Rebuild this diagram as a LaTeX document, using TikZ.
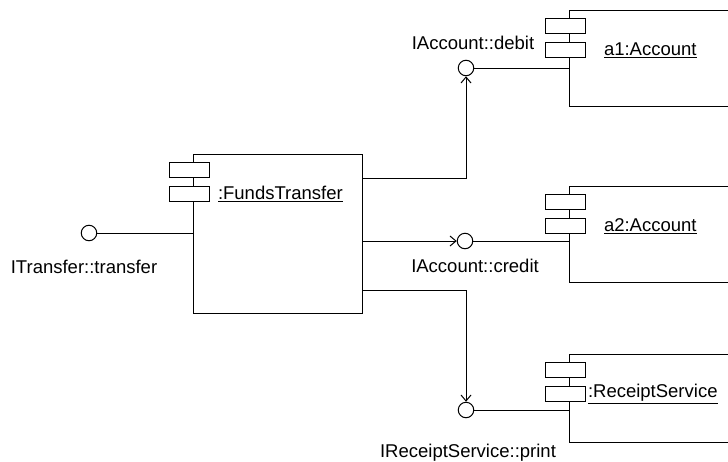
\documentclass[tikz,border=0pt]{standalone}
\usepackage{fontspec}
\setmainfont{Liberation Sans}
\usetikzlibrary{arrows.meta, positioning}

\begin{document}
\begin{tikzpicture}[
    x=1pt, y=-1pt, % one unit per pixel, y downwards
    node distance=10pt and 10pt,
    every node/.style={font=\fontsize{18.5pt}{22pt}\selectfont},
    comp/.style={draw, anchor=north west, minimum width=240pt, inner sep=0pt},
    port/.style={draw, fill=white, minimum width=40pt, minimum height=15.5pt, inner sep=0pt},
    iface/.style={draw, fill=white, circle, minimum size=15.5pt, inner sep=0pt},
    lbl/.style={inner sep=0pt},
    line width=1pt,
    >={Straight Barb[length=6pt, width=10pt]} % arrowhead style
  ]
  \useasboundingbox (0,0) rectangle (728,461);
  \clip (0,0) rectangle (728,461);

  % Components
  \node[comp, minimum width=169pt, minimum height=159pt] (ft) at (193,154) {};
  \node[comp, minimum height=96pt] (a1) at (569,10) {};
  \node[comp, minimum height=96pt] (a2) at (569,186) {};
  \node[comp, minimum height=88pt] (rs) at (569,354) {};

  % Component icons
  \foreach \c in {ft, a1, a2, rs} {
    \node[port] (\c-p1) at ([shift={(-4,16)}]\c.north west) {};
    \node[port] (\c-p2) at ([shift={(-4,40)}]\c.north west) {};
  }

  % Component names
  \node[lbl, right=8pt of ft-p2] (ft-name) {\underline{:FundsTransfer}};
  \node[lbl, right=18pt of a1-p2] (a1-name) {\underline{a1:Account}};
  \node[lbl, right=18pt of a2-p2] (a2-name) {\underline{a2:Account}};
  \node[lbl, right=2pt of rs-p2] (rs-name) {\underline{:ReceiptService}};

  % Interfaces
  \node[iface] (tr) at (89,233) {};
  \node[iface] (debit) at (466,68) {};
  \node[iface] (credit) at (465,241) {};
  \node[iface] (print) at (466,410) {};

  \node[lbl, below=18pt of tr, xshift=-5pt] (tr-name) {ITransfer::transfer};
  \node[lbl, above=10pt of debit, xshift=7pt] (debit-name) {IAccount::debit};
  \node[lbl, below=9pt of credit, xshift=10pt] (credit-name) {IAccount::credit};
  \node[lbl, below=25pt of print, xshift=2pt] (print-name) {IReceiptService::print};

  % Arrows
  \coordinate (ft-o1) at ([shift={(0,24)}]ft.north east);
  \coordinate (ft-o3) at ([shift={(0,136)}]ft.north east);

  \draw (tr) -- (tr -| ft.west);
  \draw[->] (ft-o1) -| (debit);
  \draw[->] (ft.east |- credit) -- (credit);
  \draw[->] (ft-o3) -| (print);
  \draw (debit) -- (debit -| a1.west);
  \draw (credit) -- (credit -| a2.west);
  \draw (print) -- (print -| rs.west);

\end{tikzpicture}
\end{document}
